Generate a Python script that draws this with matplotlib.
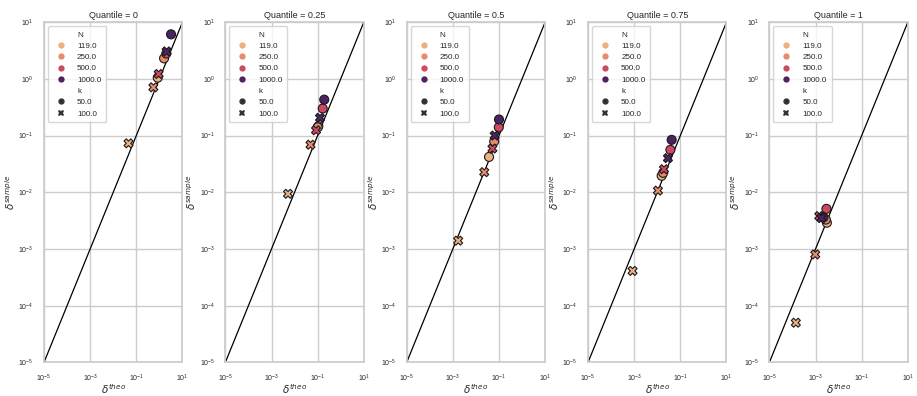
import matplotlib
matplotlib.use("Agg")
import matplotlib.pyplot as plt
import numpy as np
import pandas as pd
import seaborn as sns

# point order: (N, k) pairs
N = [119.0, 119.0, 250.0, 250.0, 500.0, 500.0, 1000.0, 1000.0]
k = [50.0, 100.0, 50.0, 100.0, 50.0, 100.0, 50.0, 100.0]

quantiles = ["0", "0.25", "0.5", "0.75", "1"]

theo_q0 = [0.85, 0.046, 1.6, 0.55, 2.0, 0.93, 3.2, 2.06]
sample_q0 = [1.05, 0.073, 2.3, 0.71, 2.8, 1.22, 6.1, 3.05]

theo_q25 = [0.107, 0.0052, 0.10, 0.049, 0.166, 0.085, 0.193, 0.126]
sample_q25 = [0.146, 0.0094, 0.14, 0.069, 0.30, 0.124, 0.43, 0.206]

theo_q50 = [0.037, 0.0017, 0.062, 0.023, 0.098, 0.052, 0.10, 0.065]
sample_q50 = [0.042, 0.0014, 0.079, 0.0226, 0.14, 0.059, 0.192, 0.10]

theo_q75 = [0.0155, 0.00085, 0.018, 0.0107, 0.037, 0.0195, 0.042, 0.029]
sample_q75 = [0.0195, 0.00041, 0.022, 0.0107, 0.056, 0.0255, 0.084, 0.040]

theo_q100 = [0.0031, 0.00014, 0.0028, 0.00097, 0.00297, 0.00145, 0.0022, 0.0018]
sample_q100 = [0.0029, 0.00005, 0.0033, 0.0008, 0.0051, 0.0038, 0.0036, 0.0035]

theo = [theo_q0, theo_q25, theo_q50, theo_q75, theo_q100]
sample = [sample_q0, sample_q25, sample_q50, sample_q75, sample_q100]

sns.set_theme(style="whitegrid", font_scale=0.5)
plt.rcParams["font.family"] = ["Liberation Sans", "DejaVu Sans"]

fig, axes = plt.subplots(1, 5, figsize=(9.17, 3.96), dpi=100)
fig.subplots_adjust(left=0.048, right=0.99, top=0.944, bottom=0.085, wspace=0.31)

line = np.array([1e-5, 1e1])
for i, ax in enumerate(axes):
    df = pd.DataFrame({"theo": theo[i], "sample": sample[i], "N": N, "k": k})
    ax.plot(line, line, color="black", lw=0.9, zorder=1)
    sns.scatterplot(data=df, x="theo", y="sample", hue="N", style="k",
                    palette="flare", legend="full", s=42,
                    edgecolor="#1a1a1a", linewidth=0.8, ax=ax, zorder=3)
    ax.set_xscale("log")
    ax.set_yscale("log")
    ax.set_xlim(1e-5, 1e1)
    ax.set_ylim(1e-5, 1e1)
    ax.set_xticks([1e-5, 1e-3, 1e-1, 1e1])
    ax.set_yticks([1e-5, 1e-4, 1e-3, 1e-2, 1e-1, 1e0, 1e1])
    ax.minorticks_off()
    ax.set_title("Quantile = " + quantiles[i], pad=3, fontsize=6.5)
    ax.set_xlabel(r"$\delta^{theo}$", fontsize=7.5, labelpad=-1.5)
    ax.set_ylabel(r"$\delta^{sample}$", fontsize=7.5, labelpad=1)
    ax.tick_params(labelsize=5, pad=1.5)
    leg = ax.legend(loc="upper left", fontsize=5.8, borderpad=0.6,
                    labelspacing=0.45, markerscale=0.7, handletextpad=1.0)
    for h in leg.legend_handles:
        if hasattr(h, "set_markeredgewidth"):
            h.set_markeredgewidth(0)

fig.savefig("out.png", dpi=100)
